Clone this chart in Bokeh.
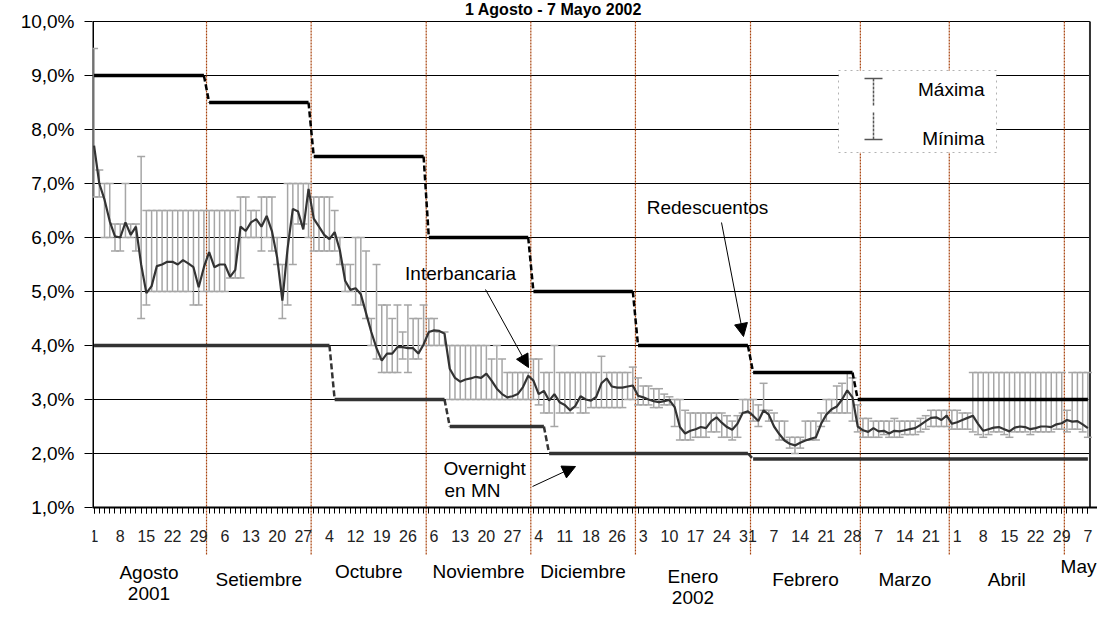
from bokeh.plotting import figure
from bokeh.models import (Range1d, FixedTicker, Label, Arrow, NormalHead,
                          BoxAnnotation, ColumnDataSource)
from bokeh.embed import file_html
from bokeh.resources import INLINE

# ---------------- data ----------------
interbancaria = [
    7.70, 7.00, 6.70, 6.30, 6.02, 6.00, 6.28, 6.05, 6.20, 5.50,
    4.97, 5.10, 5.47, 5.50, 5.55, 5.55, 5.50, 5.58, 5.52, 5.45,
    5.08, 5.45, 5.73, 5.45, 5.50, 5.50, 5.27, 5.40, 6.20, 6.12,
    6.28, 6.34, 6.20, 6.40, 6.12, 5.63, 4.83, 5.80, 6.53, 6.48,
    6.15, 6.90, 6.35, 6.20, 6.05, 5.97, 6.10, 5.76, 5.20, 5.03,
    5.06, 4.95, 4.60, 4.25, 3.95, 3.72, 3.85, 3.85, 3.97, 3.97,
    3.95, 3.95, 3.85, 4.02, 4.25, 4.28, 4.27, 4.22, 3.57, 3.40,
    3.33, 3.37, 3.39, 3.42, 3.40, 3.48, 3.35, 3.20, 3.10, 3.04,
    3.06, 3.10, 3.23, 3.44, 3.35, 3.10, 3.16, 2.98, 3.10, 2.95,
    2.90, 2.80, 2.88, 3.06, 3.00, 2.98, 3.05, 3.30, 3.39, 3.24,
    3.22, 3.22, 3.24, 3.26, 3.07, 3.04, 3.00, 2.97, 2.95, 2.97,
    2.99, 2.86, 2.49, 2.37, 2.42, 2.45, 2.49, 2.47, 2.60, 2.67,
    2.57, 2.49, 2.44, 2.55, 2.75, 2.78, 2.70, 2.60, 2.80, 2.72,
    2.50, 2.36, 2.24, 2.18, 2.15, 2.20, 2.24, 2.27, 2.30, 2.55,
    2.72, 2.82, 2.87, 3.00, 3.17, 3.04, 2.50, 2.43, 2.40, 2.47,
    2.41, 2.42, 2.37, 2.42, 2.41, 2.43, 2.45, 2.47, 2.53, 2.60,
    2.66, 2.67, 2.62, 2.70, 2.55, 2.58, 2.62, 2.66, 2.70, 2.55,
    2.42, 2.45, 2.48, 2.49, 2.45, 2.41, 2.48, 2.50, 2.49, 2.45,
    2.47, 2.50, 2.50, 2.49, 2.54, 2.56, 2.62, 2.59, 2.60, 2.54,
    2.47]

maxima = [
    9.50, 7.25, 7.00, 7.00, 6.25, 6.25, 7.00, 6.25, 6.25, 7.50,
    6.50, 6.50, 6.50, 6.50, 6.50, 6.50, 6.50, 6.50, 6.50, 6.50,
    6.50, 6.50, 6.50, 6.50, 6.50, 6.50, 6.50, 6.50, 6.75, 6.75,
    6.50, 6.50, 6.75, 6.75, 6.75, 6.00, 5.50, 7.00, 7.00, 7.00,
    7.00, 7.00, 6.75, 6.75, 6.75, 6.75, 6.50, 6.00, 5.50, 5.50,
    6.00, 6.00, 5.75, 4.50, 5.50, 4.75, 4.75, 4.50, 4.75, 4.25,
    4.75, 4.50, 4.50, 4.75, 4.50, 4.50, 4.25, 4.25, 4.00, 4.00,
    4.00, 4.00, 4.00, 4.00, 4.00, 4.00, 3.75, 4.00, 3.75, 3.50,
    3.50, 3.50, 3.50, 3.50, 3.75, 3.75, 3.50, 3.50, 4.00, 3.50,
    3.50, 3.50, 3.50, 3.50, 3.50, 3.50, 3.50, 3.80, 3.50, 3.50,
    3.50, 3.50, 3.50, 3.60, 3.40, 3.25, 3.25, 3.20, 3.20, 3.10,
    3.05, 3.00, 3.00, 2.80, 2.75, 2.75, 2.75, 2.75, 2.75, 2.75,
    2.75, 2.70, 2.60, 2.70, 3.00, 3.00, 3.00, 2.90, 3.30, 2.80,
    2.75, 2.60, 2.60, 2.30, 2.30, 2.30, 2.60, 2.60, 2.60, 2.75,
    3.00, 3.00, 3.25, 3.30, 3.50, 3.40, 2.90, 2.65, 2.65, 2.60,
    2.60, 2.60, 2.60, 2.65, 2.60, 2.60, 2.60, 2.60, 2.65, 2.70,
    2.80, 2.80, 2.80, 2.80, 2.80, 2.80, 2.75, 2.75, 3.50, 3.50,
    3.50, 3.50, 3.50, 3.50, 3.50, 3.50, 3.50, 3.50, 3.50, 3.50,
    3.50, 3.50, 3.50, 3.50, 3.50, 3.50, 2.80, 3.50, 3.50, 3.50,
    3.50]

minima = [
    6.75, 6.75, 6.00, 6.00, 5.75, 5.75, 6.00, 6.00, 5.75, 4.50,
    4.75, 5.00, 5.00, 5.00, 5.00, 5.00, 5.00, 5.00, 5.00, 4.75,
    4.75, 5.00, 5.00, 5.00, 5.00, 5.00, 5.25, 5.25, 5.25, 6.00,
    6.00, 6.00, 5.75, 6.00, 5.75, 5.50, 4.50, 4.75, 5.50, 6.25,
    6.25, 6.00, 5.75, 5.75, 5.75, 5.75, 5.75, 5.50, 5.00, 5.00,
    4.75, 4.75, 4.50, 4.00, 3.75, 3.50, 3.50, 3.50, 3.50, 3.75,
    3.50, 3.75, 3.75, 4.00, 4.00, 4.00, 4.00, 4.00, 3.00, 3.00,
    3.00, 3.00, 3.00, 3.00, 3.00, 3.00, 3.00, 3.00, 3.00, 3.00,
    3.00, 3.00, 3.00, 3.00, 3.00, 2.90, 2.75, 2.75, 2.50, 2.75,
    2.75, 2.75, 2.85, 2.75, 2.75, 2.85, 2.85, 2.85, 2.85, 2.85,
    2.85, 2.85, 3.00, 3.00, 2.90, 2.90, 2.90, 2.85, 2.85, 2.90,
    2.90, 2.50, 2.25, 2.25, 2.25, 2.30, 2.30, 2.30, 2.40, 2.40,
    2.30, 2.30, 2.25, 2.30, 2.75, 2.75, 2.60, 2.50, 2.80, 2.60,
    2.60, 2.25, 2.25, 2.10, 2.00, 2.10, 2.25, 2.25, 2.25, 2.50,
    2.60, 2.75, 2.75, 2.75, 2.75, 2.60, 2.40, 2.30, 2.30, 2.30,
    2.30, 2.35, 2.30, 2.30, 2.30, 2.35, 2.35, 2.35, 2.40, 2.45,
    2.50, 2.50, 2.50, 2.50, 2.45, 2.45, 2.45, 2.45, 2.40, 2.35,
    2.30, 2.35, 2.40, 2.40, 2.35, 2.30, 2.40, 2.40, 2.40, 2.35,
    2.40, 2.40, 2.40, 2.40, 2.45, 2.45, 2.40, 2.45, 2.45, 2.40,
    2.30]

# policy rates: level and first business day index of each level
redescuentos_levels = [9.0, 8.5, 7.5, 6.0, 5.0, 4.0, 3.5, 3.0]
redescuentos_start = [0, 22, 42, 64, 84, 104, 126, 146]
overnight_levels = [4.0, 3.0, 2.5, 2.0, 1.9]
overnight_start = [0, 46, 68, 87, 126]

# x axis: a tick label every 5 business days
day_labels = ["1", "8", "15", "22", "29", "6", "13", "20", "27", "4", "12", "19", "26",
              "6", "13", "20", "27", "4", "11", "18", "26", "3", "10", "17", "24", "31",
              "7", "14", "21", "28", "7", "14", "21", "1", "8", "15", "22", "29", "7"]
month_names = ["Agosto", "Setiembre", "Octubre", "Noviembre", "Diciembre",
               "Enero", "Febrero", "Marzo", "Abril", "May"]
month_start = [0, 22, 42, 64, 84, 104, 126, 147, 164, 186]
year_labels = {"Agosto": "2001", "Enero": "2002"}

y_ticks = list(range(1, 11))

# ---------------- geometry helpers (pixel placement of annotations) ----------------
n = len(interbancaria)
last = n - 1
x = list(range(n))
W, H = 1097, 610
LEFT, TOP = 92, 21
X0, X1 = -0.3, 190.5            # data span of the plot box (axis .. right border)
PX = (1090 - LEFT) / (X1 - X0)  # px per business day
PY = 54.0                       # px per percentage point


def px2x(px):
    return X0 + (px - LEFT) / PX


def py2y(py):
    return 10 - (py - TOP) / PY


p = figure(width=W, height=H, output_backend="svg", toolbar_location=None,
           x_range=Range1d(X0, px2x(W)), y_range=Range1d(py2y(H), py2y(0)),
           min_border_left=LEFT, min_border_right=0, min_border_top=0, min_border_bottom=0,
           background_fill_color="white", border_fill_color="white",
           outline_line_color=None)

FONT = "Liberation Sans"

# y axis
p.yaxis.ticker = FixedTicker(ticks=y_ticks)
p.yaxis.major_label_overrides = {t: f"{t},0%" for t in y_ticks}
p.yaxis.axis_line_color = None
p.yaxis.major_tick_out = 8
p.yaxis.major_tick_in = 0
p.yaxis.major_tick_line_color = "black"
p.yaxis.minor_tick_line_color = None
p.yaxis.major_label_text_font = FONT
p.yaxis.major_label_text_font_size = "19px"
p.yaxis.major_label_text_color = "black"
p.yaxis.major_label_standoff = 10

# x axis (sits on the 1% line)
xt = list(range(0, last + 1, 5))
p.xaxis.fixed_location = 1.0
p.xaxis.ticker = FixedTicker(ticks=xt, minor_ticks=list(range(0, last + 1)))
p.xaxis.major_label_overrides = {t: lab for t, lab in zip(xt, day_labels)}
p.xaxis.axis_line_color = "black"
p.xaxis.axis_line_width = 2
p.xaxis.major_tick_out = 6
p.xaxis.major_tick_in = 0
p.xaxis.minor_tick_out = 6
p.xaxis.minor_tick_in = 0
p.xaxis.major_tick_line_color = "black"
p.xaxis.minor_tick_line_color = "black"
p.xaxis.major_label_text_font = FONT
p.xaxis.major_label_text_font_size = "16px"
p.xaxis.major_label_text_color = "#222222"
p.xaxis.major_label_standoff = 16

p.xgrid.visible = False
p.ygrid.visible = False

# horizontal grid lines (stop at the right border)
p.segment(x0=[X0] * len(y_ticks), y0=y_ticks, x1=[X1 - 0.1] * len(y_ticks), y1=y_ticks,
          line_color="black", line_width=1)

# left axis line and right border
p.segment(x0=[X0], y0=[1], x1=[X0], y1=[10], line_color="black", line_width=3)
p.segment(x0=[X1 - 0.1], y0=[1], x1=[X1 - 0.1], y1=[10], line_color="#333333", line_width=2)

# month separators
bounds = [s - 0.5 for s in month_start[1:]]
p.segment(x0=bounds, y0=[10] * len(bounds), x1=bounds, y1=[py2y(555)] * len(bounds),
          line_color="#a8420c", line_width=1.2, line_dash="2 1")

# error bars (max / min)
src = ColumnDataSource(dict(x=x, mean=interbancaria, hi=maxima, lo=minima))
p.segment(x0="x", y0="lo", x1="x", y1="hi", source=src, line_color="#a6a6a6", line_width=1.5)
p.dash(x="x", y="hi", source=src, size=8, line_color="#a6a6a6", line_width=1.5)
p.dash(x="x", y="lo", source=src, size=8, line_color="#a6a6a6", line_width=1.5)


# step series
def steps(levels, starts, color, width):
    ends = [s - 1 for s in starts[1:]] + [last]
    p.segment(x0=starts, y0=levels, x1=ends, y1=levels, line_color=color, line_width=width)
    p.segment(x0=ends[:-1], y0=levels[:-1], x1=starts[1:], y1=levels[1:],
              line_color=color, line_width=2.5, line_dash="6 3")


steps(overnight_levels, overnight_start, "#333333", 3.5)
steps(redescuentos_levels, redescuentos_start, "black", 3.5)

# interbank rate
p.line(x="x", y="mean", source=src, line_color="#333333", line_width=2.2)

# ---------------- legend box ----------------
box = BoxAnnotation(left=px2x(838), right=px2x(996), top=py2y(70), bottom=py2y(152),
                    fill_color="white", fill_alpha=1.0, line_color="black",
                    line_width=1, line_dash="dotted")
p.add_layout(box)
lx = px2x(873)
cap = 9 / PX
p.segment(x0=[lx, lx], y0=[py2y(78), py2y(112)], x1=[lx, lx], y1=[py2y(105), py2y(139)],
          line_color="#555555", line_width=1.5, line_dash="3 1", level="overlay")
p.segment(x0=[lx - cap, lx - cap], y0=[py2y(78), py2y(139)], x1=[lx + cap, lx + cap],
          y1=[py2y(78), py2y(139)], line_color="#555555", line_width=1.5, level="overlay")
for txt, py in (("Máxima", 89), ("Mínima", 138)):
    p.add_layout(Label(x=px2x(984), y=py2y(py), text=txt, text_align="right",
                       text_baseline="middle", text_font=FONT, text_font_size="19px",
                       text_color="black", level="overlay"))


# ---------------- annotations ----------------
def note(txt, px, py, align="center", size="19px", style="normal"):
    p.add_layout(Label(x=px2x(px), y=py2y(py), text=txt, text_align=align,
                       text_baseline="middle", text_font=FONT, text_font_size=size,
                       text_font_style=style, text_color="black"))


note("Redescuentos", 707, 207)
note("Interbancaria", 460, 273)
note("Overnight", 443, 468, "left")
note("en MN", 444, 490, "left")


def arrow(x0, y0, x1, y1):
    p.add_layout(Arrow(end=NormalHead(size=13, fill_color="black", line_color="black"),
                       x_start=px2x(x0), y_start=py2y(y0), x_end=px2x(x1), y_end=py2y(y1),
                       line_color="black", line_width=1))


arrow(721, 222, 743, 336)
arrow(485, 289, 528, 367)
arrow(532, 486, 575, 466)

# title (top of the page)
note("1 Agosto - 7 Mayo 2002", 553, 9, size="16px", style="bold")

# month labels
month_rows = [572, 579, 571, 571, 571, 576, 579, 579, 579, 566]
ends = month_start[1:] + [last + 1]
for name, s, e, py in zip(month_names, month_start, ends, month_rows):
    if name == "May":
        note(name, W - 1, py, "right")
        continue
    cx = (s + e - 1) / 2
    p.add_layout(Label(x=cx, y=py2y(py), text=name, text_align="center",
                       text_baseline="middle", text_font=FONT, text_font_size="19px",
                       text_color="black"))
    if name in year_labels:
        p.add_layout(Label(x=cx, y=py2y(py + 21), text=year_labels[name],
                           text_align="center", text_baseline="middle", text_font=FONT,
                           text_font_size="19px", text_color="black"))

open("out.html", "w").write(file_html(p, INLINE))
